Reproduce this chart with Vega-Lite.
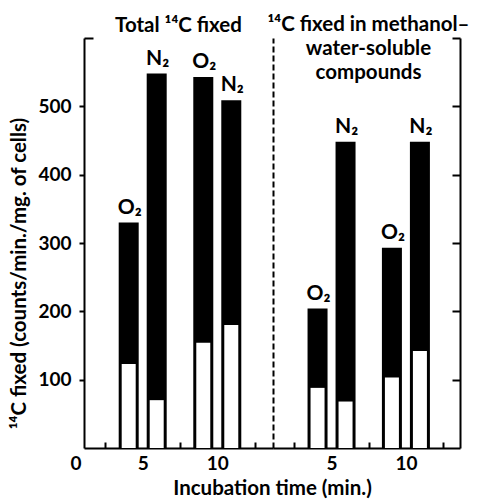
{
  "$schema": "https://vega.github.io/schema/vega-lite/v6.json",
  "padding": {"left": 9, "top": 14, "right": 20, "bottom": 5},
  "bounds": "flush",
  "config": {
    "view": {"stroke": null},
    "font": "Lato",
    "axis": {"grid": false, "domainColor": "black", "domainWidth": 2, "tickColor": "black", "tickWidth": 2, "labelFont": "Lato", "labelFontWeight": "bold", "labelFontSize": 19, "labelColor": "black", "titleFont": "Lato", "titleFontWeight": "bold", "titleFontSize": 20.5, "titleColor": "black", "zindex": 1},
    "title": {"font": "Lato", "fontWeight": "bold", "fontSize": 20.5, "color": "black"},
    "text": {"font": "Lato", "fontWeight": "bold", "fontSize": 21, "color": "black"}
  },
  "datasets": {
    "fix": [
      {"panel": "total", "time": 5, "gas": "O₂", "total": 330, "white": 123},
      {"panel": "total", "time": 5, "gas": "N₂", "total": 548, "white": 70},
      {"panel": "total", "time": 10, "gas": "O₂", "total": 543, "white": 154},
      {"panel": "total", "time": 10, "gas": "N₂", "total": 509, "white": 180},
      {"panel": "soluble", "time": 5, "gas": "O₂", "total": 204, "white": 88},
      {"panel": "soluble", "time": 5, "gas": "N₂", "total": 448, "white": 68},
      {"panel": "soluble", "time": 10, "gas": "O₂", "total": 293, "white": 103},
      {"panel": "soluble", "time": 10, "gas": "N₂", "total": 448, "white": 142}
    ]
  },
  "data": {"name": "fix"},
  "spacing": 0,
  "hconcat": [
    {
      "width": 189,
      "height": 410,
      "title": {"text": "Total ¹⁴C fixed", "offset": 1},
      "transform": [{"filter": "datum.panel === 'total'"}],
      "encoding": {
        "x": {"field": "time", "type": "quantitative", "scale": {"domain": [1.4, 13.4], "nice": false, "zero": false},
          "axis": {"values": [2.5, 5, 7.5, 10, 12.5], "labelExpr": "datum.value == 5 ? '5' : datum.value == 10 ? '10' : ''", "tickSize": -6, "tickOpacity": {"condition": {"test": "datum.value == 5 || datum.value == 10", "value": 0}, "value": 1}, "labelPadding": 12, "labelFlush": false, "title": "Incubation time (min.)", "titleX": 188, "titlePadding": 5}}
      },
      "resolve": {"axis": {"y": "independent"}},
      "layer": [
        {"transform": [{"filter": "datum.gas === 'O₂'"}], "mark": {"type": "bar", "color": "black", "size": 20, "xOffset": -14},
          "encoding": {"y": {"field": "total", "type": "quantitative", "scale": {"domain": [0, 600], "nice": false},
            "axis": {"values": [0, 100, 200, 300, 400, 500, 600], "labelExpr": "datum.value == 600 ? '' : datum.label", "tickSize": {"condition": {"test": "datum.value == 600", "value": -9}, "value": 5}, "tickOpacity": {"condition": {"test": "datum.value == 0", "value": 0}, "value": 1}, "labelPadding": {"condition": {"test": "datum.value == 0", "value": -2}, "value": 8}, "labelOffset": {"condition": {"test": "datum.value == 0", "value": 15}, "value": 0}, "title": "¹⁴C fixed (counts/min./mg. of cells)", "titleY": 235, "titlePadding": 8}}}},
        {"transform": [{"filter": "datum.gas === 'N₂'"}], "mark": {"type": "bar", "color": "black", "size": 20, "xOffset": 14},
          "encoding": {"y": {"field": "total", "type": "quantitative", "scale": {"domain": [0, 600], "nice": false}, "axis": null}}},
        {"transform": [{"filter": "datum.gas === 'O₂'"}], "mark": {"type": "bar", "color": "white", "size": 14, "xOffset": -14},
          "encoding": {"y": {"field": "white", "type": "quantitative", "scale": {"domain": [0, 600], "nice": false}, "axis": null}}},
        {"transform": [{"filter": "datum.gas === 'N₂'"}], "mark": {"type": "bar", "color": "white", "size": 14, "xOffset": 14},
          "encoding": {"y": {"field": "white", "type": "quantitative", "scale": {"domain": [0, 600], "nice": false}, "axis": null}}},
        {"transform": [{"filter": "datum.gas === 'O₂'"}], "mark": {"type": "text", "xOffset": -13, "dy": -9, "baseline": "alphabetic"},
          "encoding": {"y": {"field": "total", "type": "quantitative", "scale": {"domain": [0, 600], "nice": false}, "axis": null}, "text": {"field": "gas"}}},
        {"transform": [{"filter": "datum.gas === 'N₂'"}], "mark": {"type": "text", "xOffset": 15, "dy": -9, "baseline": "alphabetic"},
          "encoding": {"y": {"field": "total", "type": "quantitative", "scale": {"domain": [0, 600], "nice": false}, "axis": null}, "text": {"field": "gas"}}}
      ]
    },
    {
      "width": 187,
      "height": 410,
      "title": {"text": ["¹⁴C fixed in methanol–", "water-soluble", "compounds"], "offset": -46, "lineHeight": 24, "dx": 2},
      "transform": [{"filter": "datum.panel === 'soluble'"}],
      "encoding": {
        "x": {"field": "time", "type": "quantitative", "scale": {"domain": [1.4, 13.3], "nice": false, "zero": false},
          "axis": {"values": [2.5, 5, 7.5, 10, 12.5], "labelExpr": "datum.value == 5 ? '5' : datum.value == 10 ? '10' : ''", "tickSize": -6, "tickOpacity": {"condition": {"test": "datum.value == 5 || datum.value == 10", "value": 0}, "value": 1}, "labelPadding": 12, "labelFlush": false, "title": null}}
      },
      "resolve": {"axis": {"y": "independent"}},
      "layer": [
        {"transform": [{"filter": "datum.gas === 'O₂'"}], "mark": {"type": "bar", "color": "black", "size": 20, "xOffset": -14},
          "encoding": {"y": {"field": "total", "type": "quantitative", "scale": {"domain": [0, 600], "nice": false},
            "axis": {"orient": "right", "values": [100, 200, 300, 400, 500, 600], "labels": false, "tickSize": -8, "title": null}}}},
        {"transform": [{"filter": "datum.gas === 'N₂'"}], "mark": {"type": "bar", "color": "black", "size": 20, "xOffset": 14},
          "encoding": {"y": {"field": "total", "type": "quantitative", "scale": {"domain": [0, 600], "nice": false}, "axis": null}}},
        {"transform": [{"filter": "datum.gas === 'O₂'"}], "mark": {"type": "bar", "color": "white", "size": 14, "xOffset": -14},
          "encoding": {"y": {"field": "white", "type": "quantitative", "scale": {"domain": [0, 600], "nice": false},
            "axis": {"orient": "left", "labels": false, "ticks": false, "domainDash": [6, 3], "title": null}}}},
        {"transform": [{"filter": "datum.gas === 'N₂'"}], "mark": {"type": "bar", "color": "white", "size": 14, "xOffset": 14},
          "encoding": {"y": {"field": "white", "type": "quantitative", "scale": {"domain": [0, 600], "nice": false}, "axis": null}}},
        {"transform": [{"filter": "datum.gas === 'O₂'"}], "mark": {"type": "text", "xOffset": -13, "dy": -9, "baseline": "alphabetic"},
          "encoding": {"y": {"field": "total", "type": "quantitative", "scale": {"domain": [0, 600], "nice": false}, "axis": null}, "text": {"field": "gas"}}},
        {"transform": [{"filter": "datum.gas === 'N₂'"}], "mark": {"type": "text", "xOffset": 15, "dy": -9, "baseline": "alphabetic"},
          "encoding": {"y": {"field": "total", "type": "quantitative", "scale": {"domain": [0, 600], "nice": false}, "axis": null}, "text": {"field": "gas"}}}
      ]
    }
  ]
}
